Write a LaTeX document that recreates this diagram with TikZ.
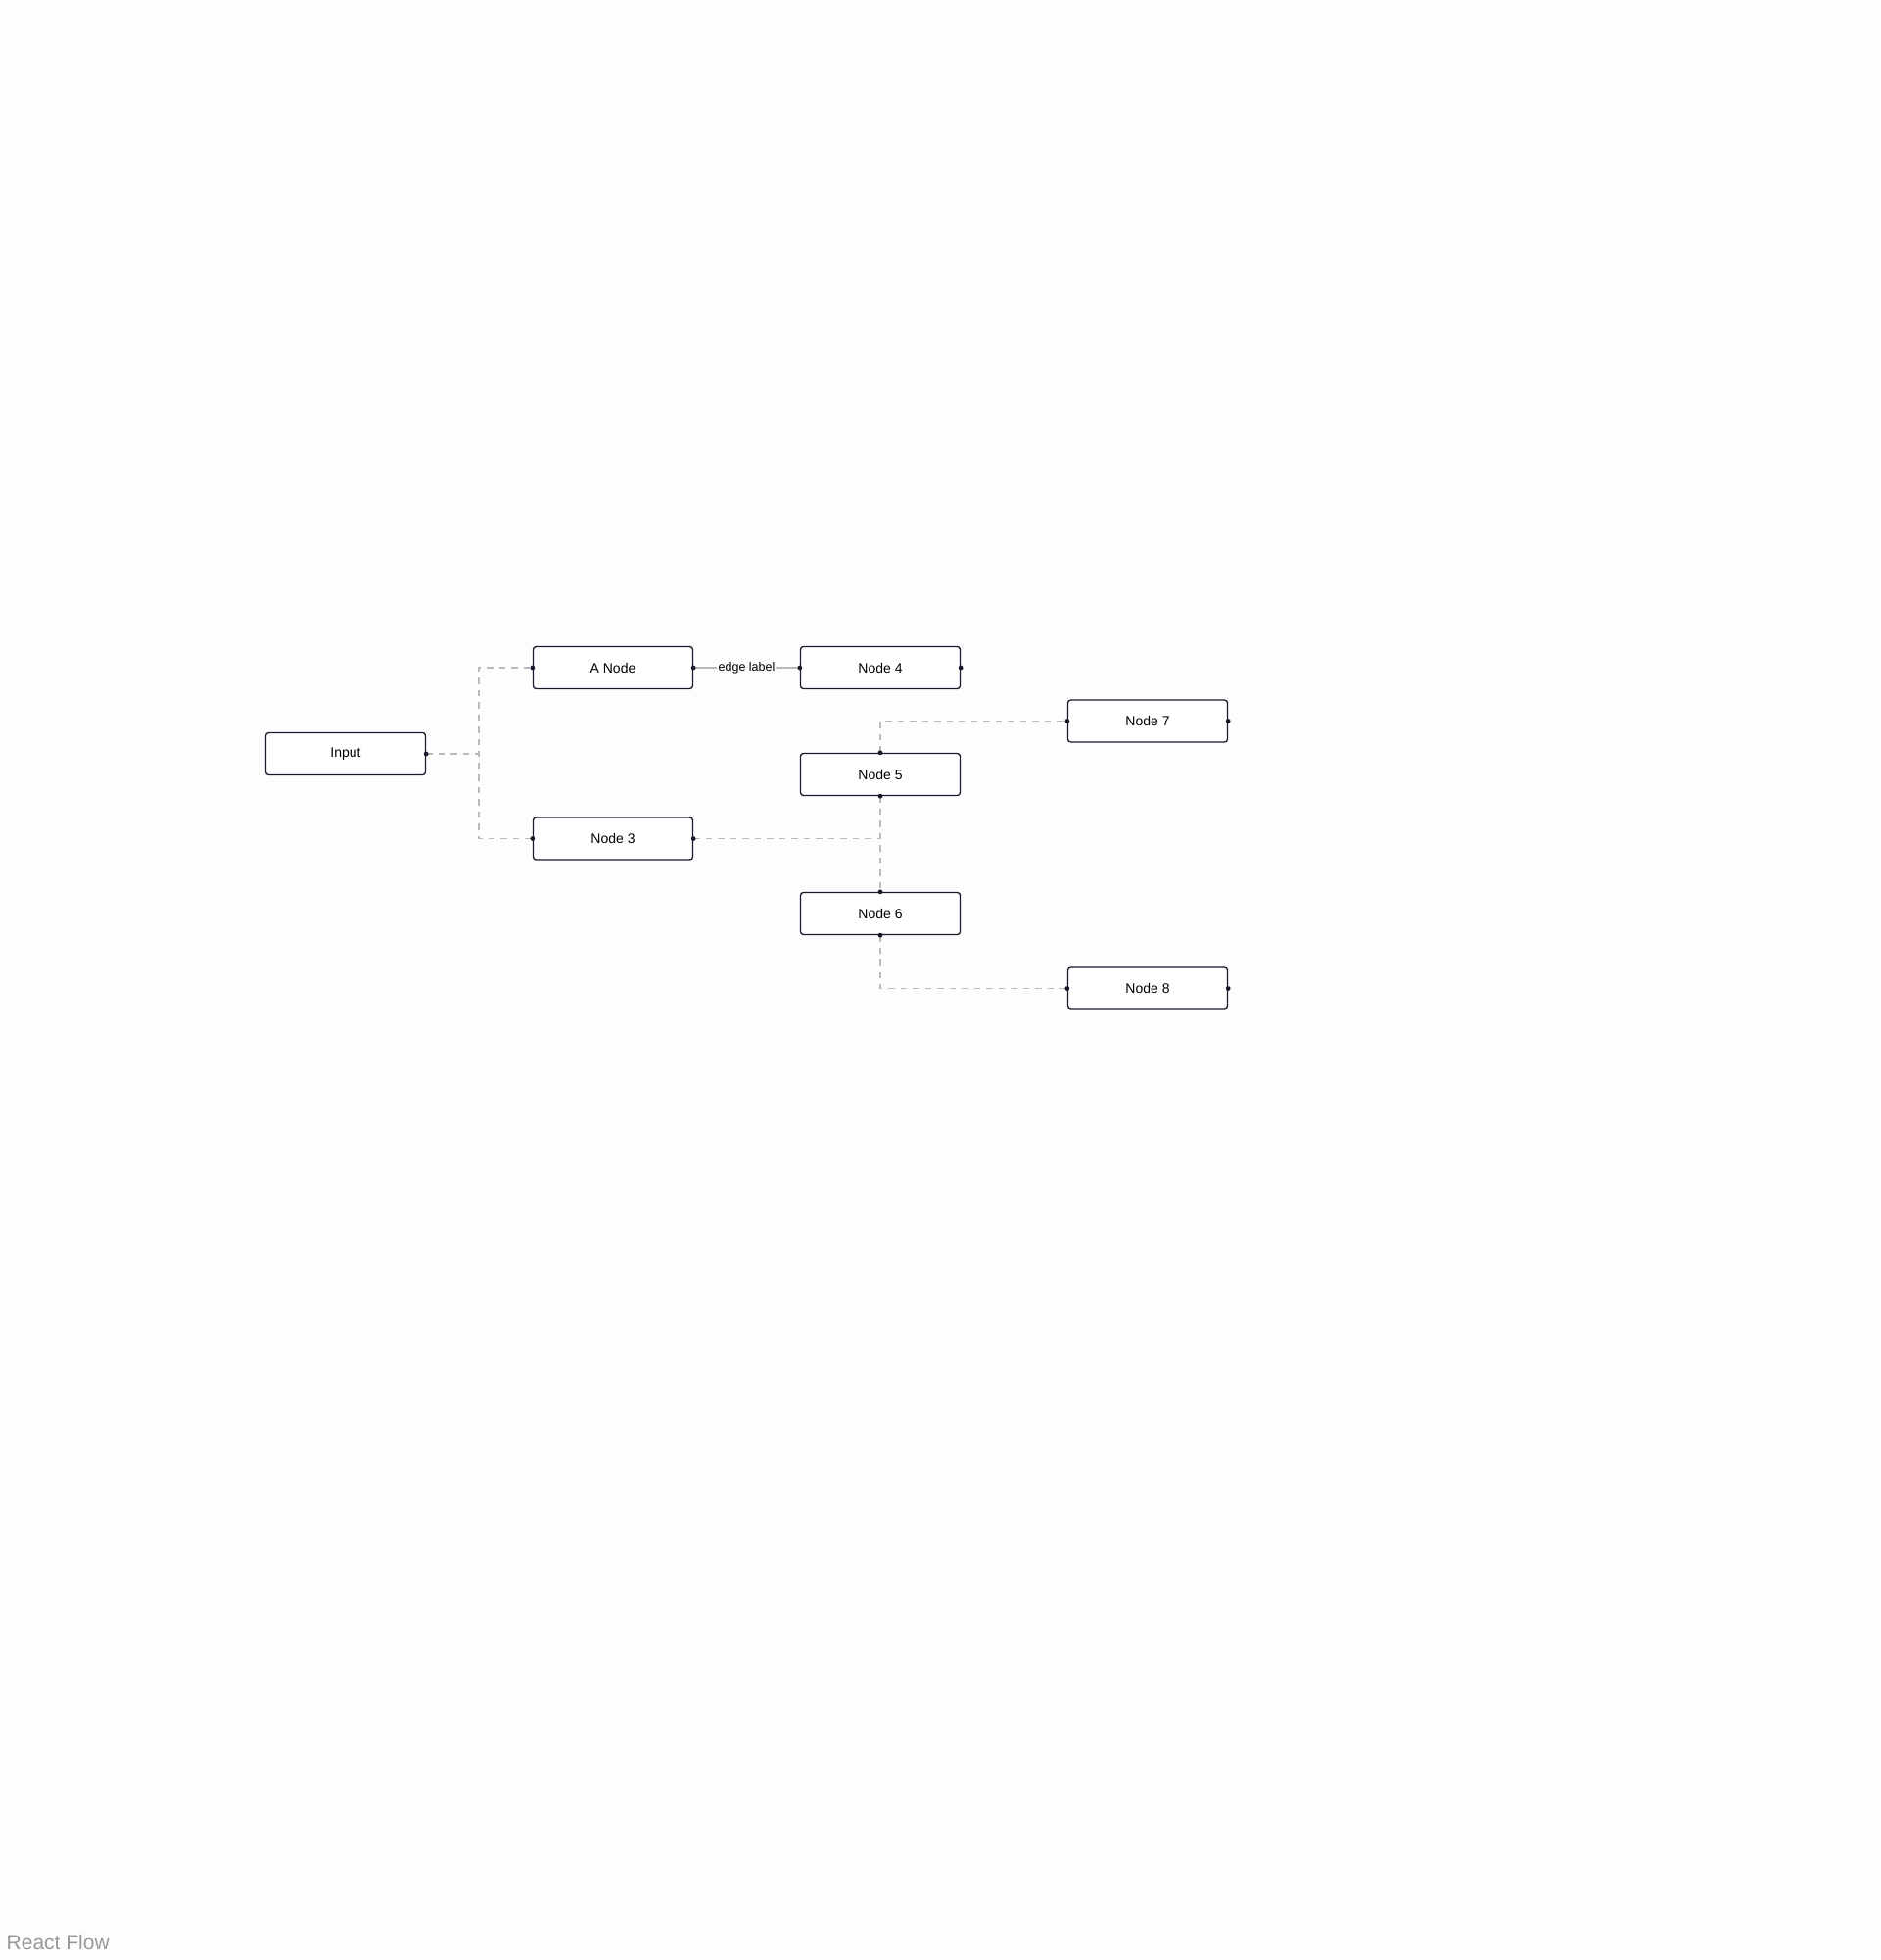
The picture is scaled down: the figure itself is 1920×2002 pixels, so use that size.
\documentclass[tikz,border=0pt]{standalone}
\usepackage{fontspec}
\setmainfont{Liberation Sans}
\begin{document}
\begin{tikzpicture}[x=1pt,y=-1pt,
  box/.style={draw=boxc, line width=1.3pt, rounded corners=3pt, fill=white,
    minimum width=163pt, minimum height=43pt, inner sep=0pt, font=\fontsize{14}{16}\selectfont, text=black},
  dedge/.style={draw=edgec, line width=1.3pt, dash pattern=on 6.5pt off 6pt},
  sedge/.style={draw=edgec, line width=1.3pt},
  hdot/.style={fill=boxc, draw=none}
]
\definecolor{boxc}{HTML}{1A192B}
\definecolor{edgec}{HTML}{B9B9BE}
\definecolor{bgc}{HTML}{FDFDFD}
\fill[bgc] (0,0) rectangle (1920,2002);
\useasboundingbox (0,0) rectangle (1920,2002);

% nodes
\node[box] (input) at (353,770) {Input};
\node[box] (a) at (626,682) {A Node};
\node[box] (n4) at (899,682) {Node 4};
\node[box] (n7) at (1172,736.5) {Node 7};
\node[box] (n5) at (899,791) {Node 5};
\node[box] (n3) at (626,856.5) {Node 3};
\node[box] (n6) at (899,933) {Node 6};
\node[box] (n8) at (1172,1009.5) {Node 8};

\coordinate (j1) at (489,770);
\coordinate (e35) at (899,856.5);

% edges
\draw[dedge] (input.east) -- (j1) |- (a.west);
\draw[dedge] (input.east) -- (j1) |- (n3.west);
\draw[dedge] (n3.east) -- (e35);
\draw[dedge] (n5.south) -- (n6.north);
\draw[dedge] (n5.north) |- (n7.west);
\draw[dedge] (n6.south) |- (n8.west);
\draw[sedge] (a.east) -- node[fill=bgc, inner xsep=2pt, inner ysep=1pt, font=\fontsize{12.5}{14}\selectfont, text=black] (lbl) {edge label} (n4.west);

% handles
\foreach \p in {input.east, a.west, a.east, n4.west, n4.east, n3.west, n3.east,
  n5.north, n5.south, n6.north, n6.south, n7.west, n7.east, n8.west, n8.east}
  \fill[hdot] (\p) circle (2.4pt);

\node[anchor=base west, inner sep=0pt, text={rgb,255:red,153;green,153;blue,153},
  font=\fontsize{21}{23}\selectfont] (rf) at (6.5,1991) {React Flow};
\end{tikzpicture}
\end{document}
